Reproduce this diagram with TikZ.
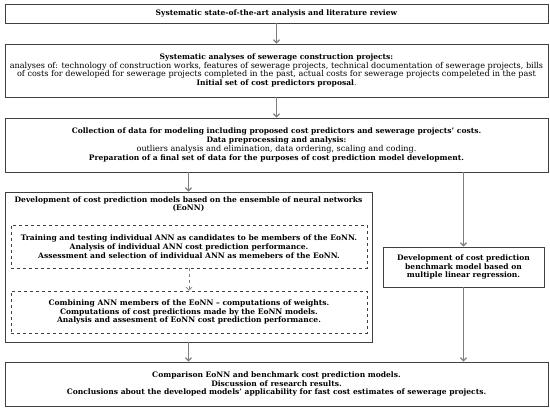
\documentclass[tikz,border=0pt]{standalone}
\usepackage{fontspec}
\setmainfont{DejaVu Serif}
\usepackage{tikz}
\usetikzlibrary{arrows.meta}
\definecolor{boxline}{HTML}{404040}
\definecolor{arrowgray}{HTML}{7F7F7F}
\newcommand{\plaintext}[1]{{\fontsize{8.1}{8.8}\selectfont #1}}
\tikzstyle{step box}=[draw=boxline, line width=0.8pt, inner sep=0pt, align=center, font=\fontsize{7.55}{8.8}\selectfont]
\tikzstyle{sub box}=[step box, dashed, line width=0.6pt]
\tikzstyle{flow}=[draw=arrowgray, line width=1.2pt, -{Straight Barb[length=3pt,width=6pt]}]

\begin{document}
\begin{tikzpicture}[x=1pt, y=-1pt]
        \useasboundingbox (0,0) rectangle (550,411);
        \node[step box, minimum width=543pt, minimum height=19pt] (review) at (276.5, 13.5) {\textbf{Systematic state-of-the-art analysis and literature review}};
        \node[step box, minimum width=543pt, minimum height=53pt] (projects) at (276.5, 70.5) {\textbf{Systematic analyses of sewerage construction projects:}\\
            \plaintext{analyses of: technology of construction works, features of sewerage projects, technical documentation of sewerage projects, bills}\\
            \plaintext{of costs for deweloped for sewerage projects completed in the past, actual costs for sewerage projects compeleted in the past}\\
            \textbf{Initial set of cost predictors proposal}.};
        \node[step box, minimum width=543pt, minimum height=54pt] (data) at (276.5, 145) {\textbf{Collection of data for modeling including proposed cost predictors and sewerage projects’ costs.}\\
            \textbf{Data preprocessing and analysis:}\\
            \plaintext{outliers analysis and elimination, data ordering, scaling and coding.}\\
            \textbf{Preparation of a final set of data for the purposes of cost prediction model development.}};
        \node[step box, minimum width=367pt, minimum height=150pt] (eonn) at (188.5, 267) {};
        \node[step box, draw=none, anchor=north] (eonntitle) at (188.5, 196) {\textbf{Development of cost prediction models based on the ensemble of neural networks}\\ \textbf{(EoNN)}};
        \node[sub box, minimum width=356pt, minimum height=43pt] (members) at (189, 246.5) {\textbf{Training and testing individual ANN as candidates to be members of the EoNN.}\\
            \textbf{Analysis of individual ANN cost prediction performance.}\\
            \textbf{Assessment and selection of individual ANN as memebers of the EoNN.}};
        \node[sub box, minimum width=356pt, minimum height=42pt] (weights) at (189, 312) {\textbf{Combining ANN members of the EoNN – computations of weights.}\\
            \textbf{Computations of cost predictions made by the EoNN models.}\\
            \textbf{Analysis and assesment of EoNN cost prediction performance.}};
        \node[step box, minimum width=161pt, minimum height=40pt] (benchmark) at (463.5, 267) {\textbf{Development of cost prediction}\\
            \textbf{benchmark model based on}\\
            \textbf{multiple linear regression.}};
        \node[step box, minimum width=543pt, minimum height=44pt] (comparison) at (276.5, 384) {\textbf{Comparison EoNN and benchmark cost prediction models.}\\
            \textbf{Discussion of research results.}\\
            \textbf{Conclusions about the developed models’ applicability for fast cost estimates of sewerage projects.}};
        \draw[flow] (review) -- (projects);
        \draw[flow] (projects) -- (data);
        \draw[flow] (data.south -| eonn) -- (eonn);
        \draw[flow] (data.south -| benchmark) -- (benchmark);
        \draw[flow, dashed, line width=0.8pt] (members) -- (weights);
        \draw[flow] (eonn) -- (comparison.north -| eonn);
        \draw[flow] (benchmark) -- (comparison.north -| benchmark);
    \end{tikzpicture}
\end{document}
